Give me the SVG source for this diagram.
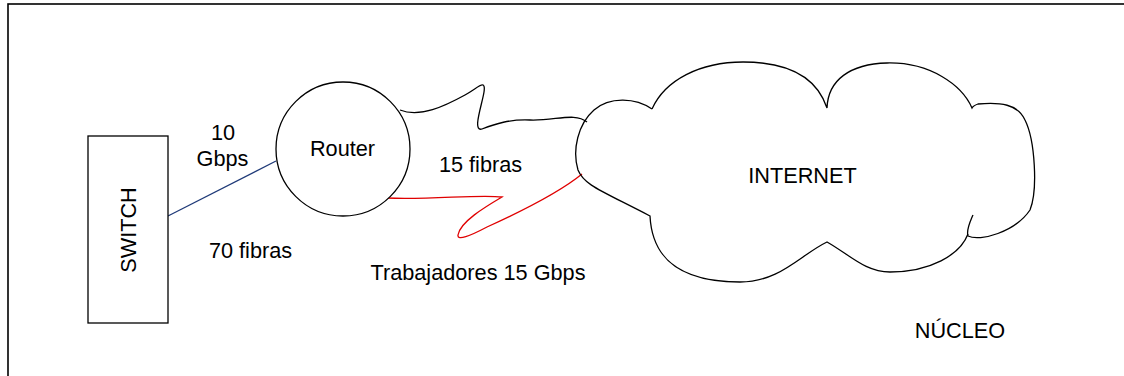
<svg xmlns="http://www.w3.org/2000/svg" width="1124" height="376" viewBox="0 0 1124 376">
<style>
.t{font-family:"Liberation Sans",Arial,sans-serif;font-size:21.7px;fill:#000}
.c{text-anchor:middle}
.s{fill:#fff;stroke:#000;stroke-width:1.3}
.o{fill:none;stroke:#000;stroke-width:1.3}
</style>
<rect x="0" y="0" width="1124" height="376" fill="#fff"/>
<rect x="8" y="4" width="1130" height="390" fill="none" stroke="#000" stroke-width="1.6"/>
<g id="connectors">
<line x1="168" y1="216" x2="276" y2="161" stroke="#1f3a78" stroke-width="1.3"/>
<path d="M 400,110 C 420,118 445,106 465,95 C 478,88 486,78 484,92 C 482,105 472,132 482,129 C 495,124 510,119 530,120 C 555,121 575,112 587,122" class="o"/>
<path d="M 387,198 C 430,200 480,194 502,197 C 485,207 460,222 458,235 C 457,241 470,236 487,227 C 520,212 560,192 582,174" fill="none" stroke="#e00000" stroke-width="1.3"/>
</g>
<g id="switch">
<rect x="88" y="136" width="80" height="187" class="s"/>
<text class="t c" transform="translate(136,230) rotate(-90)">SWITCH</text>
</g>
<g id="router">
<circle cx="343" cy="149" r="67" class="s"/>
<text class="t c" x="342.5" y="156">Router</text>
</g>
<g id="internet">
<path d="M 652,109 C 636,98 610,96 594,110 C 578,124 572,150 578,170 C 584,185 600,190 650,216 C 652,255 675,282 740,282 C 780,282 800,255 827,242 C 850,255 865,272 890,272 C 930,272 960,255 968,234" class="o"/>
<path d="M 973,215 C 970,222 966,230 968,236 C 980,242 1015,232 1030,210 C 1038,190 1035,140 1025,120 C 1018,104 1000,102 978,104 C 975,105 973,106 972,108 C 962,85 930,62 887,63 C 850,64 828,80 827,108 C 815,72 780,62 743,62 C 700,62 665,80 652,109" class="o"/>
<text class="t c" x="802.5" y="183">INTERNET</text>
</g>
<g id="labels">
<text class="t c" x="223" y="140">10</text>
<text class="t c" x="222.5" y="166">Gbps</text>
<text class="t c" x="250.5" y="258">70 fibras</text>
<text class="t c" x="480.5" y="172">15 fibras</text>
<text class="t c" x="478" y="280">Trabajadores 15 Gbps</text>
<text class="t c" x="960" y="338">NÚCLEO</text>
</g>
</svg>
